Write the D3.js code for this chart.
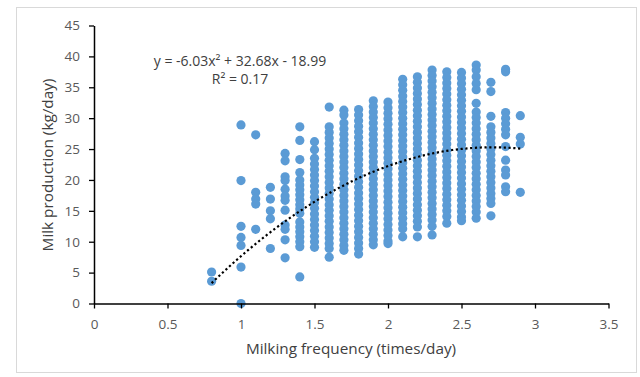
<!DOCTYPE html>
<html>
<head>
<meta charset="utf-8">
<script src="https://cdn.jsdelivr.net/npm/d3@7"></script>
<style>
  html, body { margin: 0; padding: 0; background: #fff; }
  svg { display: block; font-family: "Liberation Sans", Arial, sans-serif; }
</style>
</head>
<body>
<div id="chart"></div>
<script>
'use strict';

// milking frequency (times/day) of each column of points
var frequencies = [0.8, 1.0, 1.1, 1.2, 1.3, 1.4, 1.5, 1.6, 1.7, 1.8, 1.9, 2.0, 2.1, 2.2, 2.3, 2.4, 2.5, 2.6, 2.7, 2.8, 2.9];

var milkYields = [
  [5.1, 3.6],
  [28.9, 19.9, 12.5, 10.7, 9.4, 5.9, 0],
  [27.3, 18.0, 16.9, 16.1, 12.0],
  [18.8, 16.9, 15.0, 13.7, 8.9],
  [24.3, 23.1, 20.5, 19.9, 18.5, 17.4, 16.7, 15.1, 12.7, 12.0, 10.3, 7.4],
  [28.6, 26.4, 23.3, 21.2, 20.0, 19.2, 18.4, 17.6, 16.8, 16.0, 15.3, 14.6, 13.2, 12.4, 11.6, 10.8, 10.0, 9.2, 4.3],
  [26.2, 24.9, 23.5, 22.6, 21.7, 20.8, 19.9, 19.0, 18.1, 17.2, 16.3, 15.4, 14.5, 13.6, 12.7, 11.8, 10.9, 10.0, 9.1],
  [31.8, 28.6, 27.7, 26.8, 25.9, 25.0, 24.1, 23.2, 22.3, 21.4, 20.5, 19.6, 18.7, 17.8, 16.9, 16.0, 15.1, 14.2, 13.3, 12.4, 11.5, 10.6, 9.7, 8.9, 7.5],
  [31.3, 30.5, 29.2, 28.3, 27.4, 26.5, 25.6, 24.7, 23.8, 22.9, 22.0, 21.1, 20.2, 19.3, 18.4, 17.5, 16.6, 15.7, 14.8, 13.9, 13.0, 12.1, 11.2, 10.3, 9.4, 8.6],
  [31.4, 30.5, 29.6, 28.7, 27.8, 26.9, 26.0, 25.1, 24.2, 23.3, 22.4, 21.5, 20.6, 19.7, 18.8, 17.9, 17.0, 16.1, 15.2, 14.3, 13.4, 12.5, 11.6, 10.7, 9.8, 8.9, 8.0],
  [32.8, 31.9, 31.0, 30.1, 29.2, 28.3, 27.4, 26.5, 25.6, 24.7, 23.8, 22.9, 22.0, 21.1, 20.2, 19.3, 18.4, 17.5, 16.6, 15.7, 14.8, 13.9, 13.0, 12.1, 11.2, 10.3, 9.5],
  [32.6, 31.7, 30.8, 29.9, 29.0, 28.1, 27.2, 26.3, 25.4, 24.5, 23.6, 22.7, 21.8, 20.9, 20.0, 19.1, 18.2, 17.3, 16.4, 15.5, 14.6, 13.7, 12.8, 11.9, 11.0, 10.1, 9.7],
  [36.3, 35.4, 34.5, 33.6, 32.7, 31.8, 30.9, 30.0, 29.1, 28.2, 27.3, 26.4, 25.5, 24.6, 23.7, 22.8, 21.9, 21.0, 20.1, 19.2, 18.3, 17.4, 16.5, 15.6, 14.7, 13.8, 12.9, 12.1, 10.8],
  [36.7, 35.8, 34.9, 34.0, 33.1, 32.2, 31.3, 30.4, 29.5, 28.6, 27.7, 26.8, 25.9, 25.0, 24.1, 23.2, 22.3, 21.4, 20.5, 19.6, 18.7, 17.8, 16.9, 16.0, 15.1, 14.2, 13.3, 12.4, 10.8],
  [37.8, 36.9, 36.0, 35.1, 34.2, 33.3, 32.4, 31.5, 30.6, 29.7, 28.8, 27.9, 27.0, 26.1, 25.2, 24.3, 23.4, 22.5, 21.6, 20.7, 19.8, 18.9, 18.0, 17.1, 16.2, 15.3, 14.4, 13.5, 12.5, 11.1],
  [37.5, 36.6, 35.7, 34.8, 33.9, 33.0, 32.1, 31.2, 30.3, 29.4, 28.5, 27.6, 26.7, 25.8, 24.9, 24.0, 23.1, 22.2, 21.3, 20.4, 19.5, 18.6, 17.7, 16.8, 15.9, 15.0, 14.1, 13.0],
  [37.4, 36.5, 35.6, 34.7, 33.8, 32.9, 32.0, 31.1, 30.2, 29.3, 28.4, 27.5, 26.6, 25.7, 24.8, 23.9, 23.0, 22.1, 21.2, 20.3, 19.4, 18.5, 17.6, 16.7, 15.8, 14.9, 14.0, 13.4],
  [38.6, 37.8, 36.7, 35.6, 34.6, 32.4, 31.0, 30.1, 29.2, 28.3, 27.4, 26.5, 25.6, 24.7, 23.8, 22.9, 22.0, 21.1, 20.2, 19.3, 18.4, 17.5, 16.6, 15.7, 14.8, 13.8],
  [35.8, 34.3, 30.3, 28.6, 27.7, 26.8, 25.9, 25.0, 24.1, 23.2, 22.3, 21.4, 20.5, 19.6, 18.7, 17.8, 17.0, 16.2, 14.2],
  [37.9, 37.5, 30.9, 30.0, 29.1, 28.2, 27.3, 25.4, 23.2, 21.6, 20.8, 18.9, 18.1],
  [30.4, 26.9, 25.8, 18.0]
];

// polynomial trendline as printed on the chart: a*x^2 + b*x + c
var trendCoef = [-6.03, 32.68, -18.99];
var trendLabel = ['y = -6.03x\u00b2 + 32.68x - 18.99', 'R\u00b2 = 0.17'];

var xTicks = [0, 0.5, 1, 1.5, 2, 2.5, 3, 3.5];
var yTicks = [0, 5, 10, 15, 20, 25, 30, 35, 40, 45];

var xTitle = 'Milking frequency (times/day)';
var yTitle = 'Milk production (kg/day)';

var width = 640, height = 377;
var textFont = '"Open Sans", "Liberation Sans", sans-serif';

var svg = d3.select('#chart').append('svg')
  .attr('width', width)
  .attr('height', height);

// chart area border
svg.append('rect')
  .attr('x', 16.5).attr('y', 7.5)
  .attr('width', 620).attr('height', 365)
  .attr('fill', '#fff')
  .attr('stroke', '#d9d9d9')
  .attr('stroke-width', 1);

var x = d3.scaleLinear().domain([0, 3.5]).range([94, 608.5]);
var y = d3.scaleLinear().domain([0, 45]).range([303.5, 25.5]);

// points
var points = [];
frequencies.forEach(function(f, i) {
  milkYields[i].forEach(function(v) {
    points.push({ f: f, v: v });
  });
});

svg.append('g').selectAll('circle')
  .data(points)
  .enter().append('circle')
  .attr('cx', function(d) { return x(d.f); })
  .attr('cy', function(d) { return y(d.v); })
  .attr('r', 4.6)
  .attr('fill', '#5b9bd5');

// trendline over the data range
var fExtent = d3.extent(frequencies);
var trendPts = d3.range(0, 101).map(function(k) {
  var f = fExtent[0] + (fExtent[1] - fExtent[0]) * k / 100;
  return [f, trendCoef[0] * f * f + trendCoef[1] * f + trendCoef[2]];
});

svg.append('path')
  .datum(trendPts)
  .attr('d', d3.line()
    .x(function(d) { return x(d[0]); })
    .y(function(d) { return y(d[1]); }))
  .attr('fill', 'none')
  .attr('stroke', '#000')
  .attr('stroke-width', 2.2)
  .attr('stroke-dasharray', '2.2,2.6');

// axes
var xAxis = svg.append('g')
  .attr('transform', 'translate(0,' + y(0) + ')')
  .call(d3.axisBottom(x).tickValues(xTicks).tickFormat(d3.format('')).tickSizeInner(5).tickSizeOuter(0).tickPadding(11));

var yAxis = svg.append('g')
  .attr('transform', 'translate(' + x(0) + ',0)')
  .call(d3.axisLeft(y).tickValues(yTicks).tickSizeInner(5).tickSizeOuter(0).tickPadding(9));

[xAxis, yAxis].forEach(function(g) {
  g.select('.domain').attr('stroke', '#000').attr('stroke-width', 1.5);
  g.selectAll('.tick line').attr('stroke', '#000').attr('stroke-width', 1.3);
  g.selectAll('.tick text')
    .attr('fill', '#595959')
    .style('font-size', '13.5px')
    .style('font-family', textFont);
});

// trendline label
svg.append('g').selectAll('text')
  .data(trendLabel)
  .enter().append('text')
  .attr('x', 240)
  .attr('y', function(d, i) { return 66 + i * 18; })
  .attr('text-anchor', 'middle')
  .attr('fill', '#404040')
  .style('font-size', '14px')
  .style('font-family', textFont)
  .text(function(d) { return d; });

// axis titles
svg.append('text')
  .attr('x', 351)
  .attr('y', 354)
  .attr('text-anchor', 'middle')
  .attr('fill', '#404040')
  .style('font-size', '15.3px')
  .style('font-family', textFont)
  .text(xTitle);

svg.append('text')
  .attr('transform', 'translate(53,165) rotate(-90)')
  .attr('text-anchor', 'middle')
  .attr('fill', '#404040')
  .style('font-size', '15.3px')
  .style('font-family', textFont)
  .text(yTitle);
</script>
</body>
</html>
